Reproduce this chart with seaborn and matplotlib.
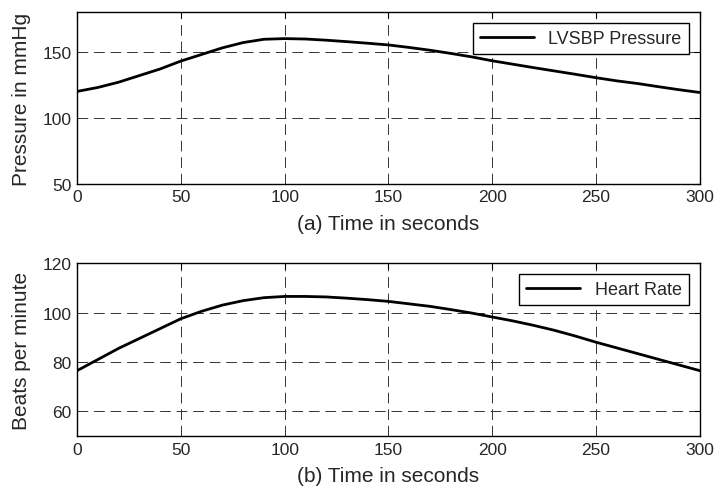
#import libraries
import pandas as pd
import seaborn as sns
import matplotlib.pyplot as plt

#data
time_s = [0, 10, 20, 30, 40, 50, 60, 70, 80, 90, 100, 110, 120, 130, 140, 150,
          160, 170, 180, 190, 200, 210, 220, 230, 240, 250, 260, 270, 280, 290, 300]
lvsbp = [120, 123, 127, 132, 137, 143, 148, 153, 157, 159.5, 160, 159.7, 158.8, 157.7, 156.5, 155.2,
         153.3, 151.2, 148.8, 146.2, 143.2, 140.6, 138, 135.5, 133, 130.4, 128, 126, 123.6, 121.3, 119.2]
heart_rate = [76.5, 81, 85.5, 89.5, 93.5, 97.5, 100.5, 103, 104.8, 106, 106.5, 106.5, 106.3, 105.8, 105.2, 104.5,
              103.5, 102.5, 101.2, 99.8, 98.2, 96.6, 94.8, 92.8, 90.5, 88, 85.7, 83.4, 81.1, 78.8, 76.5]

df = pd.DataFrame({"t": time_s, "p": lvsbp, "hr": heart_rate})

sns.set_style("white")
plt.rcParams['font.family'] = ['Liberation Sans', 'DejaVu Sans']

fig = plt.figure(figsize=(7.14, 4.89), dpi=100)
ax1 = fig.add_axes([0.108, 0.622, 0.872, 0.351])
ax2 = fig.add_axes([0.108, 0.106, 0.872, 0.354])

panels = [
    (ax1, "p", "LVSBP Pressure", "Pressure in mmHg", "(a) Time in seconds", (50, 180), [50, 100, 150]),
    (ax2, "hr", "Heart Rate", "Beats per minute", "(b) Time in seconds", (50, 120), [60, 80, 100, 120]),
]

for ax, col, lab, ylab, xlab, ylim, yticks in panels:
    sns.lineplot(x="t", y=col, data=df, ax=ax, color="black", linewidth=2, label=lab)
    ax.set_xlim(0, 300)
    ax.set_ylim(*ylim)
    ax.set_xticks([0, 50, 100, 150, 200, 250, 300])
    ax.set_yticks(yticks)
    ax.grid(True, color="#333333", linestyle=(0, (11, 6)), linewidth=0.7)
    ax.tick_params(direction="in", top=True, right=True, length=4, labelsize=12.5,
                   color="black", pad=4)
    for s in ax.spines.values():
        s.set_color("black")
        s.set_linewidth(1)
    ax.set_xlabel(xlab, fontsize=15, labelpad=7)
    ax.set_ylabel(ylab, fontsize=15, labelpad=8)
    leg = ax.legend(loc="upper right", fontsize=13, fancybox=False, framealpha=1,
                    edgecolor="black", handlelength=3, borderaxespad=0.6)
    leg.get_frame().set_linewidth(1)

plt.savefig("out.png", dpi=100)
